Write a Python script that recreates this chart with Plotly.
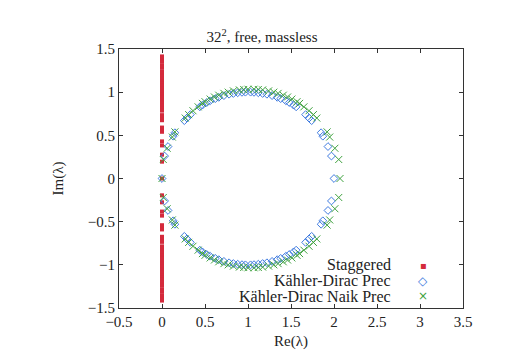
import plotly.graph_objects as go

# staggered operator: purely imaginary eigenvalues (Re = 0)
stag_im = [0.0, 0.195, 0.276, 0.383, 0.430, 0.541, 0.556, 0.590, 0.675, 0.707,
           0.734, 0.786, 0.805, 0.831, 0.854, 0.893, 0.913, 0.924, 0.944, 0.981,
           0.995, 1.0, 1.019, 1.055, 1.071, 1.079, 1.088, 1.125, 1.144, 1.169,
           1.175, 1.213, 1.225, 1.243, 1.287, 1.300, 1.307, 1.351, 1.361, 1.387,
           1.400, 1.414,
           -0.195, -0.276, -0.383, -0.430, -0.541, -0.556, -0.590, -0.675, -0.707,
           -0.734, -0.786, -0.805, -0.831, -0.854, -0.893, -0.913, -0.924, -0.944, -0.981,
           -0.995, -1.0, -1.019, -1.055, -1.071, -1.079, -1.088, -1.125, -1.144, -1.169,
           -1.175, -1.213, -1.225, -1.243, -1.287, -1.300, -1.307, -1.351, -1.361, -1.387,
           -1.400, -1.414]
stag_re = [0.0] * len(stag_im)

# Kahler-Dirac preconditioned
kd_re = [0.0, 0.03, 0.07, 0.13, 0.15, 0.26, 0.29, 0.33, 0.44, 0.47, 0.52, 0.56, 0.62, 0.66, 0.72, 0.78, 0.83, 0.88, 0.93, 0.97,
         2.0, 1.97, 1.93, 1.87, 1.85, 1.74, 1.71, 1.67, 1.56, 1.53, 1.48, 1.44, 1.38, 1.34, 1.28, 1.22, 1.17, 1.12, 1.07, 1.03,
         0.03, 0.07, 0.13, 0.15, 0.26, 0.29, 0.33, 0.44, 0.47, 0.52, 0.56, 0.62, 0.66, 0.72, 0.78, 0.83, 0.88, 0.93, 0.97,
         1.97, 1.93, 1.87, 1.85, 1.74, 1.71, 1.67, 1.56, 1.53, 1.48, 1.44, 1.38, 1.34, 1.28, 1.22, 1.17, 1.12, 1.07, 1.03]
kd_im = [0.0, 0.26, 0.37, 0.49, 0.53, 0.67, 0.70, 0.74, 0.83, 0.85, 0.88, 0.90, 0.925, 0.94, 0.96, 0.976, 0.985, 0.993, 0.998, 1.0,
         0.0, 0.26, 0.37, 0.49, 0.53, 0.67, 0.70, 0.74, 0.83, 0.85, 0.88, 0.90, 0.925, 0.94, 0.96, 0.976, 0.985, 0.993, 0.998, 1.0,
         -0.26, -0.37, -0.49, -0.53, -0.67, -0.70, -0.74, -0.83, -0.85, -0.88, -0.90, -0.925, -0.94, -0.96, -0.976, -0.985, -0.993, -0.998, -1.0,
         -0.26, -0.37, -0.49, -0.53, -0.67, -0.70, -0.74, -0.83, -0.85, -0.88, -0.90, -0.925, -0.94, -0.96, -0.976, -0.985, -0.993, -0.998, -1.0]

# Kahler-Dirac Naik preconditioned
naik_re = [0.0, 0.015, 0.06, 0.12, 0.15, 0.27, 0.31, 0.36, 0.42, 0.47, 0.50, 0.56, 0.61, 0.66, 0.72, 0.77, 0.83, 0.90, 0.95, 1.0,
           2.07, 2.055, 2.01, 1.95, 1.92, 1.80, 1.76, 1.71, 1.65, 1.60, 1.57, 1.51, 1.46, 1.41, 1.35, 1.30, 1.24, 1.17, 1.12, 1.07,
           0.015, 0.06, 0.12, 0.15, 0.27, 0.31, 0.36, 0.42, 0.47, 0.50, 0.56, 0.61, 0.66, 0.72, 0.77, 0.83, 0.90, 0.95, 1.0,
           2.055, 2.01, 1.95, 1.92, 1.80, 1.76, 1.71, 1.65, 1.60, 1.57, 1.51, 1.46, 1.41, 1.35, 1.30, 1.24, 1.17, 1.12, 1.07]
naik_im = [0.0, 0.22, 0.35, 0.48, 0.54, 0.70, 0.74, 0.785, 0.83, 0.87, 0.89, 0.92, 0.944, 0.965, 0.986, 1.0, 1.015, 1.026, 1.031, 1.034,
           0.0, 0.22, 0.35, 0.48, 0.54, 0.70, 0.74, 0.785, 0.83, 0.87, 0.89, 0.92, 0.944, 0.965, 0.986, 1.0, 1.015, 1.026, 1.031, 1.034,
           -0.22, -0.35, -0.48, -0.54, -0.70, -0.74, -0.785, -0.83, -0.87, -0.89, -0.92, -0.944, -0.965, -0.986, -1.0, -1.015, -1.026, -1.031, -1.034,
           -0.22, -0.35, -0.48, -0.54, -0.70, -0.74, -0.785, -0.83, -0.87, -0.89, -0.92, -0.944, -0.965, -0.986, -1.0, -1.015, -1.026, -1.031, -1.034]

series_names = ["Staggered", "Kähler-Dirac Prec", "Kähler-Dirac Naik Prec"]
red, blue, green = "#d42a3c", "#3f7be0", "#3fa23f"
font_family = "Liberation Serif, Times New Roman, serif"

fig = go.Figure()
fig.add_trace(go.Scatter(x=stag_re, y=stag_im, mode="markers", name=series_names[0],
                         marker=dict(symbol="square", size=4, color=red)))
fig.add_trace(go.Scatter(x=kd_re, y=kd_im, mode="markers", name=series_names[1],
                         marker=dict(symbol="diamond-open", size=6, color=blue, line=dict(width=1))))
fig.add_trace(go.Scatter(x=naik_re, y=naik_im, mode="markers", name=series_names[2],
                         marker=dict(symbol="x-thin-open", size=7, color=green, line=dict(width=1))))

# legend drawn gnuplot-style: text right-aligned, symbol to the right
legend_glyphs = [("▪", red), ("◇", blue), ("×", green)]
for i, (name, (glyph, col)) in enumerate(zip(series_names, legend_glyphs)):
    y = 0.166 - i * 0.06
    fig.add_annotation(x=0.797, y=y, xref="paper", yref="paper", text=name,
                       showarrow=False, xanchor="right", yanchor="middle",
                       font=dict(size=16, color="#222", family=font_family))
    fig.add_annotation(x=0.884, y=y, xref="paper", yref="paper", text=glyph,
                       showarrow=False, xanchor="center", yanchor="middle",
                       font=dict(size=12 if i else 10, color=col, family="DejaVu Sans"))

axis_style = dict(showline=True, linecolor="#333", linewidth=1, mirror="ticks",
                  ticks="inside", ticklen=4, tickcolor="#333", showgrid=False,
                  zeroline=False, tickfont=dict(size=15, color="#222", family=font_family))

fig.update_layout(
    width=508, height=364,
    margin=dict(l=111, r=53, t=41, b=64),
    paper_bgcolor="white", plot_bgcolor="white",
    showlegend=False,
    title=dict(text="32<sup>2</sup>, free, massless", x=0.5, xanchor="center", y=0.92, yanchor="middle",
               font=dict(size=15, color="#222", family=font_family)),
    xaxis=dict(range=[-0.5, 3.5], dtick=0.5, title=dict(text="Re(λ)", standoff=6,
               font=dict(size=15, color="#222", family=font_family)), **axis_style),
    yaxis=dict(range=[-1.5, 1.5], dtick=0.5, title=dict(text="Im(λ)", standoff=20,
               font=dict(size=15, color="#222", family=font_family)), **axis_style),
)

fig.write_html("out.html")
